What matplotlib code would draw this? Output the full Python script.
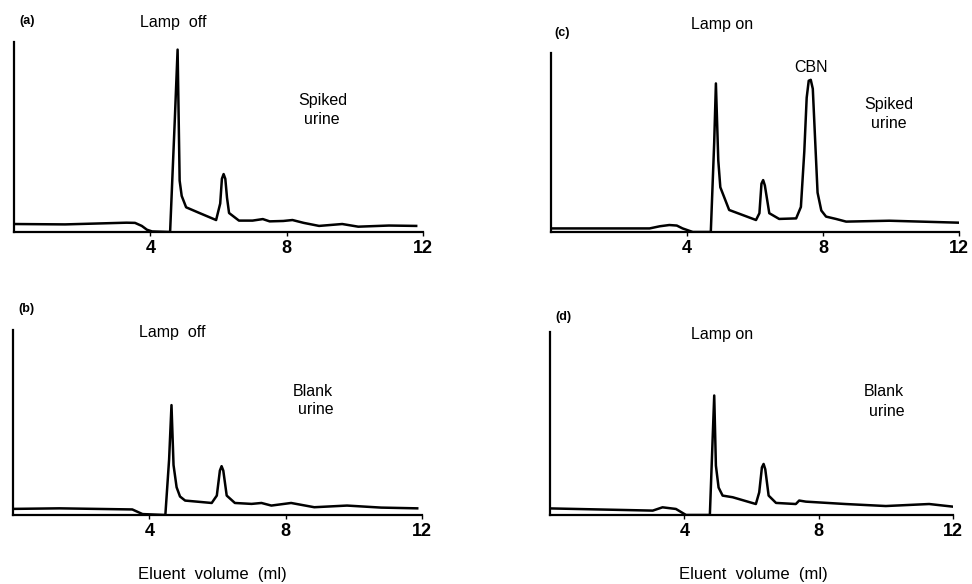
import matplotlib
matplotlib.use("Agg")
import matplotlib.pyplot as plt

plt.rcParams.update({
    "font.family": ["Liberation Sans", "DejaVu Sans"],
    "lines.linewidth": 1.6,
    "axes.linewidth": 1.6,
})

W, H = 972, 584

# elution volume (ml) / detector response (arbitrary, 100 = top of y axis)
vol_a = [0.0, 1.5, 3.3, 3.55, 3.75, 3.9, 4.05, 4.58, 4.72, 4.8, 4.86, 4.92, 5.05, 5.44, 5.93,
         6.05, 6.1, 6.15, 6.2, 6.25, 6.31, 6.6, 7.0, 7.3, 7.5, 7.9, 8.17, 8.5, 8.95, 9.63,
         10.1, 11.0, 11.8]
resp_a = [4.2, 4.0, 4.9, 4.8, 3.2, 1.2, 0.3, 0.0, 60.0, 96.0, 27.0, 19.0, 13.0, 10.0, 6.3,
          15.0, 28.0, 30.5, 28.0, 18.0, 10.0, 6.0, 6.0, 6.8, 5.6, 5.8, 6.3, 4.8, 3.2, 4.2,
          2.8, 3.4, 3.2]

vol_b = [0.0, 1.36, 3.5, 3.8, 4.47, 4.58, 4.65, 4.71, 4.8, 4.9, 5.05, 5.83, 5.98, 6.07,
         6.12, 6.17, 6.27, 6.51, 7.0, 7.29, 7.58, 8.16, 8.84, 9.8, 10.8, 11.86]
resp_b = [3.3, 3.6, 3.0, 0.5, 0.0, 30.0, 59.4, 27.0, 15.0, 10.0, 7.8, 6.5, 10.5, 24.0,
          26.4, 24.0, 10.5, 6.5, 6.0, 6.5, 5.1, 6.5, 4.2, 5.1, 4.0, 3.6]

vol_c = [0.0, 2.9, 3.2, 3.48, 3.7, 3.87, 4.17, 4.7, 4.8, 4.85, 4.92, 4.98, 5.24, 6.03, 6.13,
         6.19, 6.24, 6.29, 6.42, 6.71, 7.21, 7.35, 7.45, 7.52, 7.58, 7.64, 7.7, 7.76, 7.84,
         7.95, 8.09, 8.38, 8.68, 9.95, 12.0]
resp_c = [2.0, 2.0, 3.2, 3.9, 3.6, 2.0, 0.0, 0.0, 50.0, 83.0, 40.0, 25.0, 12.3, 6.7, 10.5,
          27.0, 29.0, 26.0, 10.5, 7.3, 7.6, 14.0, 45.0, 75.0, 84.5, 85.0, 80.0, 55.0, 22.0,
          12.0, 8.6, 7.3, 5.8, 6.3, 5.2]

vol_d = [0.0, 3.06, 3.35, 3.75, 4.05, 4.76, 4.89, 4.94, 5.02, 5.14, 5.44, 6.13, 6.23, 6.31,
         6.36, 6.41, 6.51, 6.73, 7.32, 7.42, 7.62, 8.8, 10.0, 11.29, 11.98]
resp_d = [3.6, 2.4, 4.2, 3.3, 0.0, 0.0, 65.3, 27.0, 15.0, 10.6, 9.7, 6.0, 12.4, 26.0,
          27.9, 25.0, 10.6, 6.6, 6.0, 7.9, 7.3, 6.0, 4.9, 6.0, 4.6]

xticks = [4, 8, 12]
tick_labels = ["4", "8", "12"]

# panel frames in pixels: left, right, x-axis y, y-axis top
frames = {
    "a": (14, 423, 232, 42),
    "b": (13, 422, 515, 330),
    "c": (551, 959, 232, 53),
    "d": (550, 953, 515, 332),
}
traces = {"a": (vol_a, resp_a), "b": (vol_b, resp_b),
          "c": (vol_c, resp_c), "d": (vol_d, resp_d)}

fig = plt.figure(figsize=(W / 100, H / 100), dpi=100)


def ptext(x, y, s, **kw):
    fig.text(x / W, 1 - y / H, s, ha="center", va="center", **kw)


for key, (l, r, b, t) in frames.items():
    ax = fig.add_axes([l / W, 1 - b / H, (r - l) / W, (b - t) / H])
    ax.patch.set_alpha(0)
    x, y = traces[key]
    ax.plot(x, y, color="black", linewidth=1.8, solid_joinstyle="round")
    ax.set_xlim(0, 12)
    ax.set_ylim(0, 100)
    for s in ["top", "right"]:
        ax.spines[s].set_visible(False)
    ax.set_yticks([])
    ax.set_xticks(xticks)
    ax.set_xticklabels(tick_labels, fontsize=13, fontweight="bold")
    ax.tick_params(axis="x", length=3, width=1, pad=3)

# panel labels and annotations
ptext(27, 21, "(a)", fontsize=9, fontweight="bold")
ptext(173, 22, "Lamp  off", fontsize=11.5)
ptext(323, 100, "Spiked", fontsize=11.5)
ptext(322, 120, "urine", fontsize=11.5)

ptext(26, 309, "(b)", fontsize=9, fontweight="bold")
ptext(172, 332, "Lamp  off", fontsize=11.5)
ptext(313, 391, "Blank", fontsize=11.5)
ptext(316, 410, "urine", fontsize=11.5)

ptext(562, 33, "(c)", fontsize=9, fontweight="bold")
ptext(722, 25, "Lamp on", fontsize=11.5)
ptext(811, 68, "CBN", fontsize=11.5)
ptext(889, 104, "Spiked", fontsize=11.5)
ptext(889, 123, "urine", fontsize=11.5)

ptext(563, 317, "(d)", fontsize=9, fontweight="bold")
ptext(722, 335, "Lamp on", fontsize=11.5)
ptext(884, 392, "Blank", fontsize=11.5)
ptext(887, 412, "urine", fontsize=11.5)

ptext(212, 575, "Eluent  volume  (ml)", fontsize=12)
ptext(753, 575, "Eluent  volume  (ml)", fontsize=12)

fig.savefig("out.png", dpi=100)
